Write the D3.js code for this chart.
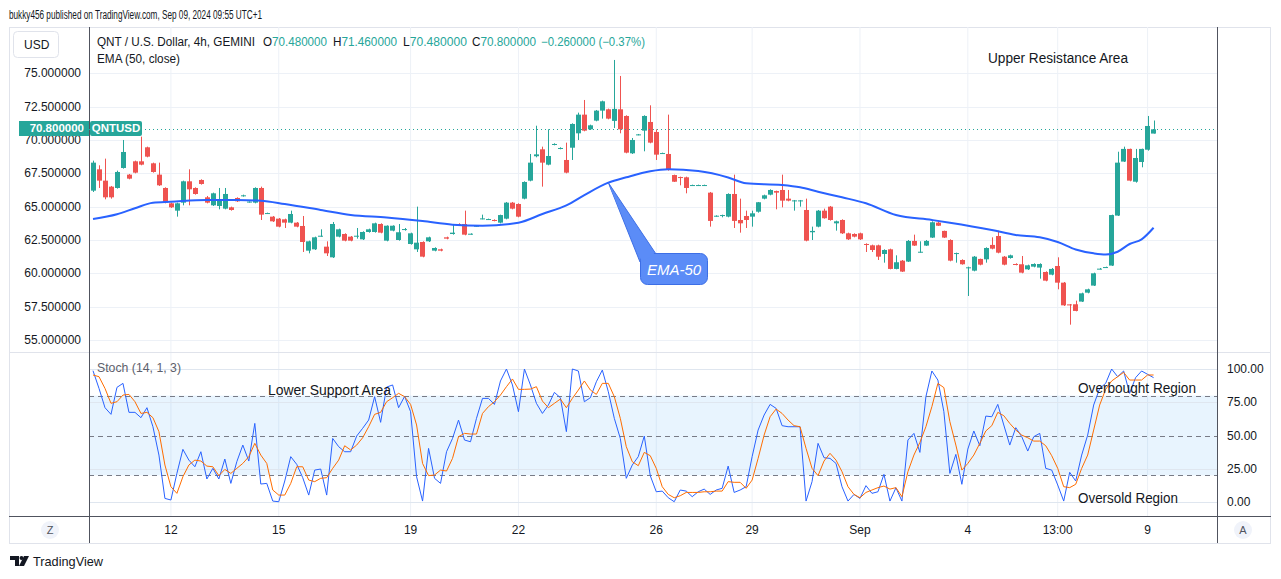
<!DOCTYPE html>
<html>
<head>
<meta charset="utf-8">
<script src="https://cdn.jsdelivr.net/npm/d3@7"></script>
<style>
  body { margin: 0; background: #fff; }
  svg { font-family: "Liberation Sans", Arial, sans-serif; }
</style>
</head>
<body>
<div id="chart"></div>
<script>
// QNT/USD 4h candles
var opens  = [66.2,67.8,66.95,66.5,66.4,67.9,67.4,68.4,68.4,69.45,68.25,67.4,66.4,65.25,64.7,65.3,66.9,66.4,67.0,65.7,
  65.1,65.05,64.85,64.95,65.65,65.8,65.33,65.3,66.4,64.48,64.25,64.1,64.05,63.8,63.8,63.55,61.7,61.8,62.78,62.0,
  61.2,62.75,62.95,62.75,62.78,62.55,63.1,63.1,63.7,62.45,63.2,62.5,63.28,62.2,61.8,62.35,62.4,61.7,61.8,62.7,
  62.95,63.7,63.7,62.93,63.53,64.08,64.03,64.0,63.8,64.1,65.3,65.2,65.6,66.95,68.78,69.3,68.15,69.66,69.36,68.5,
  69.42,70.5,71.9,70.8,71.45,72.2,72.3,71.43,72.3,71.8,69.0,70.38,70.7,71.35,70.6,68.98,68.95,67.37,67.22,67.2,
  66.58,66.58,66.58,66.05,64.28,64.33,64.25,65.95,64.0,64.3,64.25,64.62,65.6,65.9,66.17,66.25,65.6,65.43,65.43,64.75,
  63.08,63.5,64.7,65.0,63.75,64.0,63.0,62.95,63.0,62.2,62.1,62.1,61.45,61.8,60.33,60.95,60.88,62.43,61.58,62.08,
  62.68,63.8,63.18,62.5,61.48,61.0,60.4,60.2,61.08,61.05,62.13,62.8,61.25,61.15,60.7,60.68,60.3,60.5,60.43,60.1,
  59.9,60.55,59.3,57.67,57.68,57.88,58.55,59.08,60.31,60.43,60.58,64.33,68.38,69.33,66.87,68.35,69.27,70.48];
var highs  = [68.45,68.1,68.6,66.55,67.7,70.0,67.45,68.45,70.25,69.5,68.3,68.3,66.45,65.3,65.3,66.95,67.8,66.45,67.05,65.8,
  66.05,66.4,66.4,65.0,65.7,65.9,65.4,66.45,66.5,64.55,64.3,64.15,64.1,64.7,63.85,64.3,62.45,62.75,63.3,62.4,
  63.85,63.35,63.0,62.8,63.4,63.15,63.35,63.8,63.75,63.6,63.6,63.7,63.4,63.05,65.0,62.4,62.75,61.95,61.85,62.75,
  63.7,63.75,64.7,63.0,63.6,64.4,64.1,64.05,64.4,65.35,65.35,65.25,66.9,68.95,71.07,69.5,70.8,69.75,69.45,69.8,
  71.25,72.05,73.0,71.15,72.25,72.95,72.35,76.0,74.8,71.85,70.15,70.45,71.85,72.6,70.8,69.05,71.9,67.4,67.25,67.25,
  66.65,66.65,66.65,66.1,64.35,64.4,66.0,67.4,65.6,64.7,64.7,65.35,65.9,66.3,66.2,67.4,66.25,65.5,65.5,65.6,
  63.5,64.75,64.85,65.05,63.95,64.05,63.05,63.0,63.05,62.25,62.15,62.15,61.8,61.85,61.35,61.0,62.5,62.9,62.4,62.5,
  63.9,63.85,63.2,62.55,61.55,61.05,60.5,61.3,61.1,61.95,62.7,63.2,61.3,61.4,60.75,61.3,60.65,60.75,60.75,60.15,
  60.4,61.2,59.35,57.7,57.95,58.55,58.85,60.05,60.4,60.5,64.4,69.12,69.5,69.35,69.33,69.35,71.8,71.46];
var lows   = [66.1,66.4,65.55,65.6,66.35,67.85,67.05,67.5,68.1,68.7,67.55,66.55,65.25,64.9,64.25,65.1,65.1,65.9,66.65,65.25,
  65.05,64.8,64.8,64.7,65.35,65.75,65.3,65.25,64.0,64.45,63.85,63.45,63.4,63.75,63.45,61.6,61.5,61.75,62.75,61.3,
  61.15,62.7,62.4,62.4,62.6,62.5,63.05,63.05,63.0,62.4,63.15,62.45,63.2,62.15,61.6,61.2,62.35,61.65,61.65,62.55,
  62.9,63.55,62.85,62.9,63.5,64.05,64.0,63.9,63.75,64.05,64.8,64.2,65.55,66.9,68.7,66.5,68.1,69.6,69.3,67.5,
  68.5,70.0,70.65,70.75,71.4,71.6,71.55,70.9,70.5,69.0,68.95,70.35,69.15,69.75,68.5,68.95,67.7,66.85,66.6,66.0,
  66.55,66.55,66.55,63.5,64.25,64.2,64.2,63.4,63.05,63.4,63.5,64.55,65.55,65.85,64.8,64.95,65.4,64.7,65.0,62.4,
  62.5,63.45,64.1,63.95,63.2,62.95,62.5,62.7,62.5,61.6,61.6,61.0,60.8,60.3,60.3,60.1,60.85,62.05,61.55,62.05,
  62.65,63.55,62.65,60.9,60.8,60.65,58.3,60.15,60.6,60.8,61.8,61.5,60.6,61.1,60.6,60.0,60.25,60.45,59.6,59.4,
  59.85,58.8,57.55,56.15,57.15,57.85,58.5,59.05,60.3,60.4,60.55,64.3,68.35,66.9,66.8,67.95,69.2,70.48];
var closes = [68.3,66.95,65.7,65.7,67.6,69.1,67.1,67.55,68.15,68.75,67.6,66.6,65.3,64.95,65.25,66.9,66.3,65.95,66.7,65.3,
  66.0,65.5,65.95,64.75,65.4,65.85,65.38,66.4,64.4,64.52,63.9,63.5,63.8,64.45,63.5,62.35,62.4,62.7,62.82,61.5,
  63.7,63.3,62.45,62.45,62.82,63.1,63.3,63.75,63.05,63.57,63.57,63.08,63.32,63.0,62.3,61.25,62.7,61.9,61.7,62.6,
  63.05,63.6,62.9,62.97,63.57,64.12,64.07,63.96,64.37,65.3,64.85,64.25,66.85,68.3,68.92,68.3,68.8,69.7,69.4,67.55,
  71.2,71.9,70.7,71.1,72.2,72.9,71.6,72.33,70.8,69.05,70.0,70.42,71.8,69.8,68.9,69.02,67.75,66.87,67.18,66.4,
  66.62,66.62,66.62,63.93,64.32,64.37,65.95,63.93,63.75,64.0,64.5,65.33,65.85,66.25,66.05,65.45,65.45,65.47,65.47,62.45,
  63.18,64.7,64.13,64.0,63.9,63.0,62.55,62.75,62.55,62.16,61.75,61.25,61.75,60.33,60.83,60.13,62.43,62.08,61.62,62.43,
  63.83,63.57,62.68,60.95,61.52,60.68,60.45,61.25,60.65,61.9,61.85,61.55,60.65,61.35,60.66,60.05,60.6,60.7,60.7,59.45,
  60.33,59.3,57.6,57.63,57.18,58.5,58.8,60.0,60.35,60.47,64.37,68.3,69.33,66.95,68.65,69.33,71.05,70.8];

// EMA (50) read at some candles
var emaIdx = [0,4,7,10,13,19,24,28,32,38,43,49,55,60,65,71,75,79,82,86,89,93,96,101,106,109,115,118,121,125,
  129,134,140,143,150,154,158,161,164,167,169,171,173,175,177];
var emaVal = [64.07,64.43,64.88,65.3,65.37,65.5,65.5,65.45,65.2,64.75,64.37,64.19,63.92,63.65,63.57,63.8,64.45,65.1,65.87,66.8,
  67.2,67.65,67.8,67.67,67.19,66.75,66.62,66.45,66.12,65.7,65.25,64.37,64.0,63.8,63.25,62.87,62.7,62.35,61.79,61.5,
  61.41,61.62,62.2,62.55,63.42];

// Stoch (14, 1, 3)
var stochK = [98.7,85.4,70.9,65.9,86.2,89.2,67.4,67.4,63.4,70.9,56.6,35.3,2.7,1.5,21.5,39.6,31.5,26.5,37.8,17.3,
  25.3,17.3,32.3,14,30.3,42.8,30.8,59.1,13.5,14,0.7,0.2,15.8,34.1,28.3,18.3,5.2,24,24.8,5.2,
  47.8,41.6,37.8,37.8,49.6,55.4,61.6,79.2,59.9,86.4,88,70.9,79.4,67.9,19,0.7,40.3,17.8,14,37.8,
  47.8,61.6,46.6,45.3,62.9,77.9,77.9,73.4,91,100,88,67.9,100,88,74.2,66.6,72.9,82.4,78.4,52.9,
  100,98.5,75.4,78.4,90.4,99.2,82.9,62.9,47.8,17.8,27.8,34.1,49.6,19.8,7.7,8.2,3.2,0.2,9,8.2,
  4,7.7,9.7,5.7,9,10.3,27,7.2,9,11.5,34.1,54.1,65.4,73.4,70.4,57.4,56.6,56.6,56.6,0.7,
  15.3,44.1,33.3,32.8,29,11.5,0.7,5.7,2.7,12.3,6.5,7.7,20.8,0.7,10.7,0.7,46.6,51.6,37.3,79.2,
  98.5,91.7,67.9,21.5,35.8,13.3,39.8,53.4,42.3,64.6,64.1,73.4,57.9,42.8,55.9,49.1,38.3,49.1,51.6,25.3,
  24,12.8,0.7,22.3,15.8,35.3,50.3,72.9,85.4,89.2,100,94.2,98.5,81.7,93.5,98.5,96,93.5];
var stochD = [95.5,94.2,85.4,74.2,75.4,80.4,80.9,75.4,66.6,67.4,63.4,52.9,27.8,11.5,6.5,19,27.8,31.5,30.8,27,
  26.5,19.8,24.5,21.5,25.3,29,34.1,44.1,35.3,29,9,5.2,5.2,14,26.5,26.5,16.5,15.3,17.8,18.3,
  25.3,31.5,42.3,39.1,42.8,48.3,56.6,65.9,67.4,75.4,78.4,81.7,79.2,73.4,57.9,29,19.8,20.3,24,23.3,
  32.8,49.1,51.6,51.1,51.1,66.6,71.7,75.4,80.4,86.7,92.5,84.7,84.7,84.9,86.7,75.9,70.9,74.2,77.4,70.9,
  77.9,84.2,91,84.2,80.9,89.2,89.2,79.2,62.9,41.6,30.3,27.3,37.3,34.8,25.3,11.5,5.7,3.2,4.7,7.2,
  7.2,7.2,7.7,7.7,8.2,8.2,15.3,14.8,14.8,10.3,16.5,32.8,50.3,64.1,69.9,66.6,61.6,57.4,56.6,40.3,
  25.3,19.8,30.8,36.6,31.5,22.8,11.5,5.7,3.2,7.2,9,10.8,12,9.7,10.8,4,22.8,35.3,44.8,56.6,
  71.7,89.2,86,60.4,42.8,24,29,35.3,44.1,53.4,57.4,67.4,64.9,59.1,54.1,50.3,48.3,45.8,45.8,42.3,
  34.8,25.3,11.5,10.8,13.3,25.3,35.3,54.1,72.9,84.7,91,94.2,97.5,91.7,91.7,91.7,95.5,95.5];

var priceTicks = [75, 72.5, 70, 67.5, 65, 62.5, 60, 57.5, 55];
var stochTicks = [100, 75, 50, 25, 0];
var stochGrid = [100, 75, 25, 0];
var stochLevels = [80, 50, 20];
var timeTickIdx = [13, 31, 53, 71, 94, 110, 128, 146, 161, 176];
var timeTickLabels = ["12", "15", "19", "22", "26", "29", "Sep", "4", "13:00", "9"];
var lastClose = 70.8;
var ohlcLabels = ["O", "H", "L", "C"];
var ohlcValues = ["70.480000", "71.460000", "70.480000", "70.800000"];

var W = 1281, H = 579;
var left = 89, right = 1217, paneTop = 27, paneSplit = 352, stochBottom = 516, bottom = 543;
var green = "#26a69a", red = "#ef5350", gridColor = "#edf1f7", textColor = "#131722";

var svg = d3.select("#chart").append("svg")
    .attr("width", W)
    .attr("height", H);

var x = d3.scaleBand()
    .domain(d3.range(closes.length))
    .range([89.3, 89.3 + 6 * closes.length])
    .padding(0.24);
function cx(i) { return x(i) + x.bandwidth() / 2; }

var y = d3.scaleLinear().domain([55, 75]).range([340, 73.3]);
var ys = d3.scaleLinear().domain([0, 100]).range([502, 369]);

// frame
svg.append("rect").attr("x", 9.5).attr("y", 27.5).attr("width", 1261).attr("height", 516)
    .attr("fill", "#fff").attr("stroke", "#e0e3eb");

svg.append("defs").append("clipPath").attr("id", "pclip")
  .append("rect").attr("x", left).attr("y", paneTop).attr("width", right - left).attr("height", paneSplit - paneTop);
svg.select("defs").append("clipPath").attr("id", "sclip")
  .append("rect").attr("x", left).attr("y", paneSplit).attr("width", right - left).attr("height", stochBottom - paneSplit);

// grid
var grid = svg.append("g");
grid.selectAll(".vg").data(timeTickIdx).enter().append("line")
    .attr("x1", function(d) { return cx(d); }).attr("x2", function(d) { return cx(d); })
    .attr("y1", paneTop).attr("y2", stochBottom)
    .attr("stroke", gridColor);
grid.selectAll(".hg").data(priceTicks).enter().append("line")
    .attr("x1", left).attr("x2", right)
    .attr("y1", function(d) { return Math.round(y(d)) + 0.5; }).attr("y2", function(d) { return Math.round(y(d)) + 0.5; })
    .attr("stroke", gridColor);

// stoch band + levels
var sp = svg.append("g");
sp.append("rect").attr("x", left).attr("width", right - left)
    .attr("y", ys(80)).attr("height", ys(20) - ys(80))
    .attr("fill", "rgba(33,150,243,0.1)");
sp.selectAll(".sg").data(stochGrid).enter().append("line")
    .attr("x1", left).attr("x2", right)
    .attr("y1", function(d) { return Math.round(ys(d)) + 0.5; }).attr("y2", function(d) { return Math.round(ys(d)) + 0.5; })
    .attr("stroke", "#dfe6ef");
sp.selectAll(".lv").data(stochLevels).enter().append("line")
    .attr("x1", left).attr("x2", right)
    .attr("y1", function(d) { return Math.round(ys(d)) + 0.5; }).attr("y2", function(d) { return Math.round(ys(d)) + 0.5; })
    .attr("stroke", "#787b86").attr("stroke-dasharray", "5,4");

// separators and axis lines
svg.append("line").attr("x1", 9).attr("x2", 1271).attr("y1", paneSplit + 0.5).attr("y2", paneSplit + 0.5).attr("stroke", "#e0e3eb");
svg.append("line").attr("x1", 9).attr("x2", 1271).attr("y1", stochBottom + 0.5).attr("y2", stochBottom + 0.5).attr("stroke", "#50535e");
svg.append("line").attr("x1", left + 0.5).attr("x2", left + 0.5).attr("y1", paneTop).attr("y2", bottom).attr("stroke", "#50535e");
svg.append("line").attr("x1", right + 0.5).attr("x2", right + 0.5).attr("y1", paneTop).attr("y2", bottom).attr("stroke", "#50535e");

// candles
var pg = svg.append("g").attr("clip-path", "url(#pclip)");
var candles = pg.selectAll(".c").data(d3.range(closes.length)).enter().append("g");
candles.append("line")
    .attr("x1", function(i) { return Math.round(cx(i)) + 0.5; })
    .attr("x2", function(i) { return Math.round(cx(i)) + 0.5; })
    .attr("y1", function(i) { return y(highs[i]); })
    .attr("y2", function(i) { return y(lows[i]); })
    .attr("stroke", function(i) { return closes[i] >= opens[i] ? green : red; });
candles.append("rect")
    .attr("x", function(i) { return Math.round(x(i)); })
    .attr("width", Math.round(x.bandwidth()))
    .attr("y", function(i) { return y(Math.max(opens[i], closes[i])); })
    .attr("height", function(i) { return Math.max(1, Math.abs(y(opens[i]) - y(closes[i]))); })
    .attr("fill", function(i) { return closes[i] >= opens[i] ? green : red; });

// EMA 50
var emaLine = d3.line()
    .x(function(d, k) { return cx(emaIdx[k]); })
    .y(function(d) { return y(d); })
    .curve(d3.curveMonotoneX);
pg.append("path").datum(emaVal)
    .attr("d", emaLine)
    .attr("fill", "none").attr("stroke", "#2962ff").attr("stroke-width", 2);

// last price line
pg.append("line").attr("x1", left).attr("x2", right)
    .attr("y1", Math.round(y(lastClose)) + 0.5).attr("y2", Math.round(y(lastClose)) + 0.5)
    .attr("stroke", green).attr("stroke-dasharray", "1,3");

// stoch lines
var sg = svg.append("g").attr("clip-path", "url(#sclip)");
var stochLine = d3.line().x(function(d, i) { return cx(i); }).y(function(d) { return ys(d); });
sg.append("path").datum(stochK).attr("d", stochLine).attr("fill", "none").attr("stroke", "#2962ff").attr("stroke-width", 1);
sg.append("path").datum(stochD).attr("d", stochLine).attr("fill", "none").attr("stroke", "#ff6d00").attr("stroke-width", 1);

// price axis (left)
svg.append("g").selectAll("text").data(priceTicks).enter().append("text")
    .attr("x", 81).attr("y", function(d) { return y(d) + 4; })
    .attr("text-anchor", "end").attr("font-size", 12).attr("fill", textColor)
    .text(function(d) { return d.toFixed(6); });

// stoch axis (right)
svg.append("g").selectAll("text").data(stochTicks).enter().append("text")
    .attr("x", 1227).attr("y", function(d) { return ys(d) + 4; })
    .attr("font-size", 12).attr("fill", textColor)
    .text(function(d) { return d.toFixed(2); });

// time axis
svg.append("g").selectAll("text").data(timeTickIdx).enter().append("text")
    .attr("x", function(d) { return cx(d); }).attr("y", 534)
    .attr("text-anchor", "middle").attr("font-size", 12).attr("fill", textColor)
    .text(function(d, k) { return timeTickLabels[k]; });

// last price labels
var ly = Math.round(y(lastClose));
svg.append("rect").attr("x", 19).attr("y", ly - 8).attr("width", 70).attr("height", 15).attr("fill", green);
svg.append("text").attr("x", 84).attr("y", ly + 3).attr("text-anchor", "end").attr("font-size", 11.5)
    .attr("font-weight", "bold").attr("fill", "#fff").text(lastClose.toFixed(6));
svg.append("rect").attr("x", 90).attr("y", ly - 8).attr("width", 52).attr("height", 15).attr("rx", 2).attr("fill", green);
svg.append("text").attr("x", 116).attr("y", ly + 3).attr("text-anchor", "middle").attr("font-size", 11.5)
    .attr("font-weight", "bold").attr("fill", "#fff").text("QNTUSD");

// USD box
svg.append("rect").attr("x", 13.5).attr("y", 31.5).attr("width", 45).attr("height", 26).attr("rx", 4)
    .attr("fill", "#fff").attr("stroke", "#e0e3eb");
svg.append("text").attr("x", 24).attr("y", 49).attr("font-size", 12).attr("fill", textColor).text("USD");

// header texts
svg.append("text").attr("x", 9).attr("y", 19).attr("font-size", 12).attr("fill", textColor)
    .attr("textLength", 253).attr("lengthAdjust", "spacingAndGlyphs")
    .text("bukky456 published on TradingView.com, Sep 09, 2024 09:55 UTC+1");

svg.append("text").attr("x", 97).attr("y", 46).attr("font-size", 12).attr("fill", textColor)
    .attr("textLength", 158).attr("lengthAdjust", "spacingAndGlyphs").text("QNT / U.S. Dollar, 4h, GEMINI");
var ohlcX = [263, 333, 403, 472];
ohlcLabels.forEach(function(lab, k) {
  var t = svg.append("text").attr("x", ohlcX[k]).attr("y", 46).attr("font-size", 12)
      .attr("textLength", 64).attr("lengthAdjust", "spacingAndGlyphs");
  t.append("tspan").attr("fill", textColor).text(lab);
  t.append("tspan").attr("fill", green).text(ohlcValues[k]);
});
svg.append("text").attr("x", 541).attr("y", 46).attr("font-size", 12).attr("fill", green)
    .attr("textLength", 104).attr("lengthAdjust", "spacingAndGlyphs").text("\u22120.260000 (\u22120.37%)");

svg.append("text").attr("x", 97).attr("y", 63).attr("font-size", 12).attr("fill", textColor)
    .attr("textLength", 83).attr("lengthAdjust", "spacingAndGlyphs").text("EMA (50, close)");
svg.append("text").attr("x", 97).attr("y", 372).attr("font-size", 12).attr("fill", "#5d606b")
    .attr("textLength", 84).attr("lengthAdjust", "spacingAndGlyphs").text("Stoch (14, 1, 3)");

// annotations
function note(t, x0, y0, len) {
  svg.append("text").attr("x", x0).attr("y", y0).attr("font-size", 14).attr("fill", textColor)
    .attr("textLength", len).attr("lengthAdjust", "spacingAndGlyphs").text(t);
}
note("Upper Resistance Area", 988, 63, 140);
note("Lower Support Area", 268, 395, 123);
note("Overbought Region", 1078, 393, 118);
note("Oversold Region", 1078, 503, 100);

// EMA-50 callout
var tipX = cx(86), tipY = y(66.8);
svg.append("path")
    .attr("d", "M" + tipX + "," + tipY + "L640,262L656,254Z")
    .attr("fill", "#5b8cf7").attr("stroke", "#3c6ee6");
svg.append("rect").attr("x", 640.5).attr("y", 253.5).attr("width", 67).attr("height", 31).attr("rx", 7)
    .attr("fill", "#5b8cf7").attr("stroke", "#3c6ee6");
svg.append("path")
    .attr("d", "M" + (tipX + 1) + "," + (tipY + 3) + "L641.5,261L655,255Z")
    .attr("fill", "#5b8cf7");
svg.append("text").attr("x", 674).attr("y", 275).attr("text-anchor", "middle")
    .attr("font-size", 15).attr("font-style", "italic").attr("fill", "#fff").text("EMA-50");

// Z / A buttons
[["Z", 50], ["A", 1243]].forEach(function(b) {
  svg.append("circle").attr("cx", b[1]).attr("cy", 530).attr("r", 9).attr("fill", "#f0f3fa");
  svg.append("text").attr("x", b[1]).attr("y", 534).attr("text-anchor", "middle")
    .attr("font-size", 11).attr("fill", "#50535e").text(b[0]);
});

// footer logo
var logo = svg.append("g").attr("fill", textColor);
logo.append("path").attr("d", "M10,556h9v10h-4v-6h-5z");
logo.append("circle").attr("cx", 21.5).attr("cy", 558).attr("r", 2);
logo.append("path").attr("d", "M24,556h5l-5,10h-5z");
svg.append("text").attr("x", 33).attr("y", 566).attr("font-size", 13).attr("fill", textColor)
    .attr("textLength", 70).attr("lengthAdjust", "spacingAndGlyphs").text("TradingView");
</script>
</body>
</html>
